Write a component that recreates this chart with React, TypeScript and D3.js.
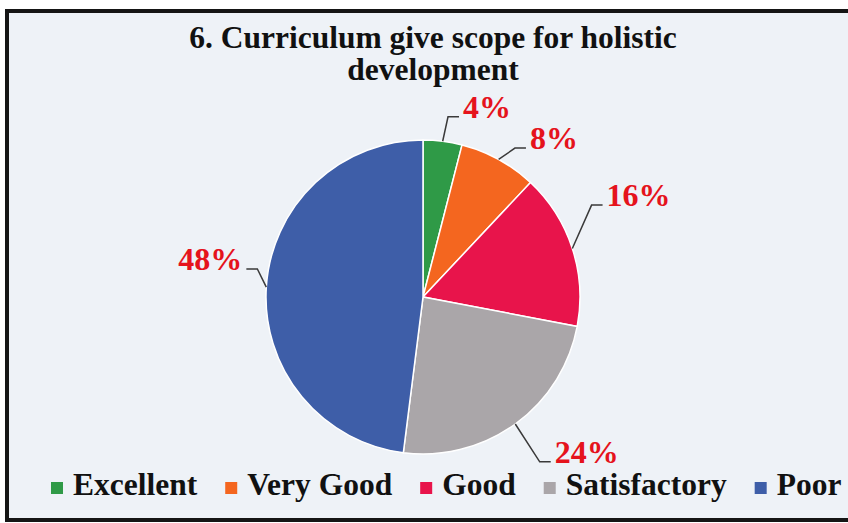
import React, { useEffect, useRef } from "react";
import * as d3 from "d3";

const categories = ["Excellent", "Very Good", "Good", "Satisfactory", "Poor"];
const values = [4, 8, 16, 24, 48];
const labels = ["4%", "8%", "16%", "24%", "48%"];
const titleLines = ["6. Curriculum give scope for holistic", "development"];

// styling / layout config (not data)
const colors = ["#2f9a47", "#f4661f", "#e8144b", "#aaa6a9", "#3e5ea8"];
const labelAngleShift = [0.7, 2.9, -10.6, 0.7, 6]; // degrees
const labelRadiusExtra = [25, 18, 35, 45, 11];

const W = 848;
const H = 523;
const FONT = "'Liberation Serif', 'Times New Roman', serif";

export default function App() {
  const ref = useRef<SVGSVGElement | null>(null);

  useEffect(() => {
    document.body.style.margin = "0";
    const svg = d3.select(ref.current);
    svg.selectAll("*").remove();

    svg.append("rect").attr("width", W).attr("height", H).attr("fill", "#ffffff");
    svg.append("rect")
      .attr("x", 7).attr("y", 11)
      .attr("width", 852).attr("height", 509)
      .attr("fill", "#eef2f7")
      .attr("stroke", "#151515")
      .attr("stroke-width", 4);

    // title, one text per line
    titleLines.forEach((t, i) => {
      svg.append("text")
        .attr("x", 433)
        .attr("y", 48 + i * 32)
        .attr("text-anchor", "middle")
        .attr("font-family", FONT)
        .attr("font-weight", "bold")
        .attr("font-size", 31.5)
        .attr("fill", "#111")
        .text(t);
    });

    const cx = 423;
    const cy = 297;
    const r = 157;

    const pie = d3.pie<number>().sort(null).value(d => d);
    const arcs = pie(values);
    const arc = d3.arc<d3.PieArcDatum<number>>().innerRadius(0).outerRadius(r);

    const g = svg.append("g").attr("transform", `translate(${cx},${cy})`);
    g.selectAll("path.slice")
      .data(arcs)
      .enter()
      .append("path")
      .attr("class", "slice")
      .attr("d", arc)
      .attr("fill", (_, i) => colors[i])
      .attr("stroke", "#ffffff")
      .attr("stroke-width", 1.5);

    const polar = (a: number, rad: number): [number, number] => [
      Math.sin(a) * rad,
      -Math.cos(a) * rad,
    ];

    arcs.forEach((d, i) => {
      const mid = (d.startAngle + d.endAngle) / 2;
      const p0 = polar(mid, r);
      const p1 = polar(mid + (labelAngleShift[i] * Math.PI) / 180, r + labelRadiusExtra[i]);
      const right = p1[0] >= 0;
      const p2: [number, number] = [p1[0] + (right ? 11 : -11), p1[1]];
      g.append("path")
        .attr("d", d3.line()([p0, p1, p2]))
        .attr("fill", "none")
        .attr("stroke", "#3a3a3a")
        .attr("stroke-width", 1.5);
      g.append("text")
        .attr("x", p2[0] + (right ? 4 : -4))
        .attr("y", p1[1] + 1)
        .attr("text-anchor", right ? "start" : "end")
        .attr("font-family", FONT)
        .attr("font-weight", "bold")
        .attr("font-size", 32)
        .attr("fill", "#e5131c")
        .text(labels[i]);
    });

    // legend
    const legend = svg.append("g");
    let x = 51;
    categories.forEach((c, i) => {
      legend.append("rect")
        .attr("x", x).attr("y", 482)
        .attr("width", 12).attr("height", 12)
        .attr("fill", colors[i]);
      const t = legend.append("text")
        .attr("x", x + 22)
        .attr("y", 495)
        .attr("font-family", FONT)
        .attr("font-weight", "bold")
        .attr("font-size", 31.5)
        .attr("fill", "#111")
        .text(c);
      const tw = (t.node() as SVGTextElement).getComputedTextLength();
      x += 22 + tw + 28;
    });
  }, []);

  return <svg ref={ref} width={W} height={H} style={{ display: "block" }} />;
}
